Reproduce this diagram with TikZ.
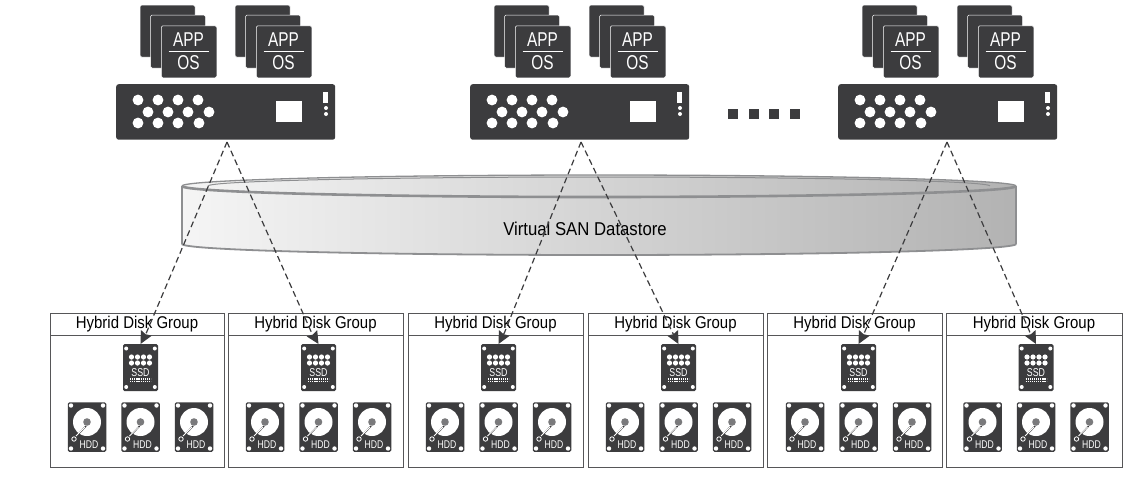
\documentclass[tikz,border=0pt]{standalone}
\usepackage{fontspec}
\setmainfont[FakeStretch=0.88]{Liberation Sans}
\newfontfamily\cond[FakeStretch=0.77]{Liberation Sans}
\newfontfamily\dsfont[FakeStretch=0.9]{Liberation Sans}
\usetikzlibrary{arrows.meta}
\definecolor{ink}{HTML}{3C3C3E}
\definecolor{rim}{HTML}{8E8F91}
\definecolor{hub}{HTML}{7A7A7C}
\definecolor{boxline}{HTML}{565658}
\tikzset{
  dark/.style={fill=ink,draw=none,rounded corners=1.5pt},
  lbl/.style={inner sep=0pt,text=white,font=\cond\fontsize{#1}{#1}\selectfont},
  wdot/.style={fill=white,draw=none},
  groupbox/.style={draw=boxline,line width=0.85pt,fill=white},
  grouptitle/.style={inner sep=0pt,text=black,font=\fontsize{17}{17}\selectfont},
  link/.style={dash pattern=on 6pt off 3.6pt,draw=ink,line width=1.2pt,-{Stealth[length=12.5pt,width=12pt,inset=1.5pt]}},
}
\newcommand{\vmstack}[2]{%
  \fill[ink,draw=white,line width=0.5pt,rounded corners=1.5pt] (#1,5) rectangle ++(55,52);
  \fill[ink,draw=white,line width=0.5pt,rounded corners=1.5pt] (#1+10.5,15) rectangle ++(55,53);
  \node[dark,draw=white,line width=0.5pt,minimum width=55.5pt,minimum height=52pt,inner sep=0pt,anchor=north west] (#2) at (#1+21,25.5) {};
  \node[lbl=20] (#2app) at (#1+48.5,39.5) {APP};
  \node[lbl=20] (#2os) at (#1+48.5,63) {OS};
  \draw[white,line width=1pt] (#1+28.5,51) -- (#1+68.5,51);
}
\newcommand{\srv}[2]{%
  \vmstack{#1+24}{#2a}
  \vmstack{#1+119}{#2b}
  \node[dark,rounded corners=2.5pt,minimum width=219pt,minimum height=55.5pt,inner sep=0pt,anchor=north west] (#2) at (#1,84) {};
  \foreach \dx in {22,42,62,82} \fill[wdot] (#1+\dx,100) circle (5.4pt);
  \foreach \dx in {32,52,72,93} \fill[wdot] (#1+\dx,112) circle (5.4pt);
  \foreach \dx in {22,42,62,83} \fill[wdot] (#1+\dx,123) circle (5.4pt);
  \fill[wdot] (#1+160,101) rectangle (#1+186,122);
  \fill[wdot] (#1+207,92) rectangle (#1+212,103);
  \fill[wdot] (#1+210,108) circle (2pt);
  \fill[wdot] (#1+210,114) circle (2pt);
}
\newcommand{\hdd}[2]{%
  \node[dark,minimum width=38.5pt,minimum height=49.5pt,inner sep=0pt] (#2) at (#1,427) {};
  \foreach \sx/\sy in {-16/-21.5,16/-21.5,-16/21.5,16/21.5} \fill[wdot] (#1+\sx,427+\sy) circle (2.2pt);
  \fill[wdot] (#1,422) circle (14pt);
  \fill[hub] (#1,422) circle (3.8pt);
  \draw[ink,line width=1.4pt] (#1-14,440) -- (#1-1,426);
  \draw[white,line width=1pt] (#1-11,436) -- (#1-2,427);
  \draw[white,line width=0.8pt,fill=ink] (#1-13,439) circle (2.2pt);
  \node[lbl=11.2] (#2t) at (#1+2,445) {HDD};
}
% #1 left, #2 width, #3 name, #4 centre of the SSD
\newcommand{\diskgroup}[4]{%
  \draw[groupbox] (#1,313) rectangle ++(#2,154);
  \draw[boxline,line width=0.85pt] (#1,335.5) -- ++(#2,0);
  \node[grouptitle] (#3t) at (#1+#2/2,324.5) {Hybrid Disk Group};
  \node[dark,minimum width=35pt,minimum height=47pt,inner sep=0pt,anchor=north] (#3s) at (#4,344) {};
  \foreach \sx/\sy in {-14.3/4.5,14.3/4.5,-14.3/43,14.3/43} \fill[wdot] (#4+\sx,344+\sy) circle (2pt);
  \foreach \r in {357,363} \foreach \c in {-9,-3,3,9} \fill[wdot] (#4+\c,\r) circle (2.6pt);
  \node[lbl=11.4] (#3st) at (#4,372.5) {SSD};
  \foreach \r in {379,381.8} \draw[white,line width=1.3pt,dash pattern=on 1.2pt off 0.9pt] (#4-10.5,\r) -- (#4+10.5,\r);
  \hdd{#4-53.5}{#3h1}
  \hdd{#4}{#3h2}
  \hdd{#4+53.5}{#3h3}
}
\begin{document}
\begin{tikzpicture}[x=1pt,y=-1pt]
\useasboundingbox (0,0) rectangle (1138,488);
\fill[white] (0,0) rectangle (1138,488);
\srv{116}{s1}
\srv{470}{s2}
\srv{838}{s3}
\foreach \x [count=\i] in {728,749,769,790}
  \node[fill=ink,minimum size=10pt,inner sep=0pt,anchor=north west] (dot\i) at (\x,109) {};
% datastore
\shade[left color=white!96!black,right color=black!30,draw=none]
  (182,186) -- (182,244) arc[start angle=180,end angle=360,x radius=417pt,y radius=11pt]
  -- (1016,186) arc[start angle=0,end angle=180,x radius=417pt,y radius=11pt] -- cycle;
\draw[rim,line width=1.5pt] (182,186) -- (182,244);
\draw[rim,line width=1.5pt] (1016,186) -- (1016,244);
\draw[rim,line width=1.8pt] (182,244) arc[start angle=180,end angle=360,x radius=417pt,y radius=11pt];
\draw[rim,line width=1.3pt] (182,186) arc[start angle=180,end angle=0,x radius=417pt,y radius=11pt];
\draw[rim,line width=2.6pt] (182,186) arc[start angle=180,end angle=360,x radius=417pt,y radius=11pt];
\draw[rim,line width=1pt] (208,186) arc[start angle=180,end angle=0,x radius=391pt,y radius=9pt];
\node[inner sep=0pt,text=black,font=\dsfont\fontsize{18.6}{18.6}\selectfont] (ds) at (585,228.5) {Virtual SAN Datastore};
% disk groups
\diskgroup{50}{174}{g1}{140.5}
\diskgroup{228}{175}{g2}{318.5}
\diskgroup{408}{175}{g3}{498.5}
\diskgroup{588}{175}{g4}{678.5}
\diskgroup{767}{175}{g5}{858.5}
\diskgroup{946}{176}{g6}{1036}
% connectors
\coordinate (a1) at (227,142);
\coordinate (a2) at (581,142);
\coordinate (a3) at (947,142);
\draw[link] (a1) -- ([shift={(6,-11.5)}]g1s.north) -- (g1s.north);
\draw[link] (a1) -- ([shift={(-7,-11.5)}]g2s.north) -- (g2s.north);
\draw[link] (a2) -- ([shift={(6,-11.5)}]g3s.north) -- (g3s.north);
\draw[link] (a2) -- ([shift={(-6,-11.5)}]g4s.north) -- (g4s.north);
\draw[link] (a3) -- ([shift={(6,-11.5)}]g5s.north) -- (g5s.north);
\draw[link] (a3) -- ([shift={(-6,-11.5)}]g6s.north) -- (g6s.north);
\end{tikzpicture}
\end{document}
